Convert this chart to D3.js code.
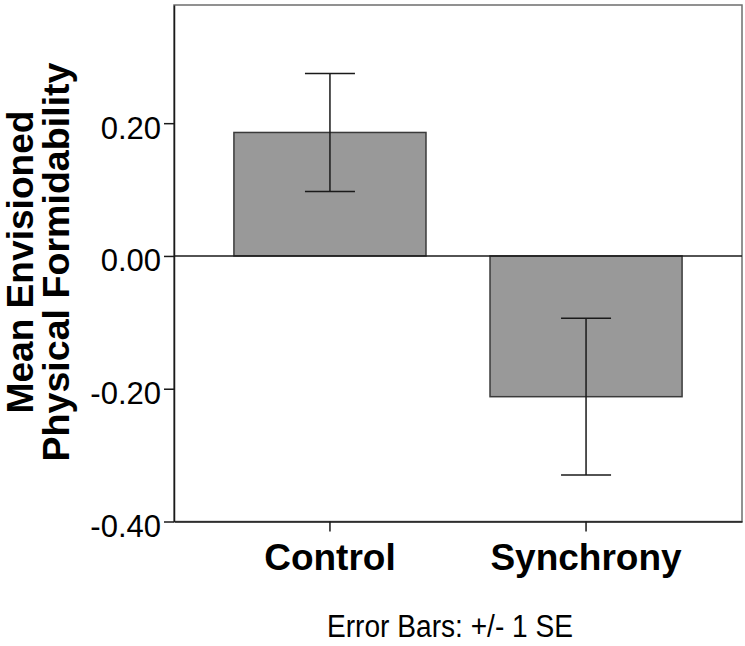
<!DOCTYPE html>
<html>
<head>
<meta charset="utf-8">
<script src="https://cdn.jsdelivr.net/npm/d3@7"></script>
<style>
  body { margin: 0; background: #fff; }
  svg { display: block; font-family: "Liberation Sans", Arial, sans-serif; }
</style>
</head>
<body>
<div class="Graph"></div>
<script>
// data
const groups = ["Control", "Synchrony"];
const means = [0.186, -0.212];
const stdErr = [0.089, 0.118];
const yTicks = [-0.4, -0.2, 0, 0.2];

const W = 745, H = 646;
const plotL = 174, plotR = 742, plotT = 5, plotB = 521.5;

const svg = d3.select(".Graph")//svg area
    .append("svg")
    .attr("width", W)
    .attr("height", H);

let x = d3.scaleBand()//x axis
    .domain(groups)
    .range([plotL, plotR])
    .paddingInner(0.25)
    .paddingOuter(0.234);

let y = d3.scaleLinear()//y axis
    .domain([-0.4, 0.378])
    .range([plotB, plotT]);

// frame
svg.append("rect")
    .attr("x", plotL).attr("y", plotT)
    .attr("width", plotR - plotL).attr("height", plotB - plotT)
    .attr("fill", "none")
    .attr("stroke", "#6e6e6e")
    .attr("stroke-width", 1.5);

// bars
svg.selectAll(".bar")
    .data(groups)
    .enter()
    .append("rect")
    .attr("class", "bar")
    .attr("x", d => x(d))
    .attr("width", x.bandwidth())
    .attr("y", (d, i) => y(Math.max(0, means[i])))
    .attr("height", (d, i) => Math.abs(y(means[i]) - y(0)))
    .attr("fill", "#999999")
    .attr("stroke", "#3a3a3a")
    .attr("stroke-width", 1.5);

// zero line
svg.append("line")
    .attr("x1", plotL).attr("x2", plotR)
    .attr("y1", y(0)).attr("y2", y(0))
    .attr("stroke", "#1a1a1a")
    .attr("stroke-width", 1.5);

// error bars +/- 1 SE
const cap = 25;
const eb = svg.selectAll(".err")
    .data(groups)
    .enter()
    .append("g")
    .attr("class", "err")
    .attr("stroke", "#1a1a1a")
    .attr("stroke-width", 1.5);
eb.append("line")
    .attr("x1", d => x(d) + x.bandwidth() / 2)
    .attr("x2", d => x(d) + x.bandwidth() / 2)
    .attr("y1", (d, i) => y(means[i] + stdErr[i]))
    .attr("y2", (d, i) => y(means[i] - stdErr[i]));
eb.append("line")
    .attr("x1", d => x(d) + x.bandwidth() / 2 - cap)
    .attr("x2", d => x(d) + x.bandwidth() / 2 + cap)
    .attr("y1", (d, i) => y(means[i] + stdErr[i]))
    .attr("y2", (d, i) => y(means[i] + stdErr[i]));
eb.append("line")
    .attr("x1", d => x(d) + x.bandwidth() / 2 - cap)
    .attr("x2", d => x(d) + x.bandwidth() / 2 + cap)
    .attr("y1", (d, i) => y(means[i] - stdErr[i]))
    .attr("y2", (d, i) => y(means[i] - stdErr[i]));

// left axis
const gy = svg.append("g")
    .attr("transform", "translate(" + plotL + ",0)")
    .call(d3.axisLeft(y).tickValues(yTicks).tickSize(10).tickSizeOuter(0).tickPadding(3)
        .tickFormat(d => d.toFixed(2)));
gy.select(".domain").attr("stroke", "#1a1a1a").attr("stroke-width", 1.5);
gy.selectAll(".tick line").attr("stroke", "#1a1a1a").attr("stroke-width", 1.5);
gy.selectAll(".tick text")
    .attr("font-family", "Liberation Sans, Arial, sans-serif")
    .attr("font-size", 31)
    .attr("fill", "#000")
    .attr("y", 5);

// bottom axis
const gx = svg.append("g")
    .attr("transform", "translate(0," + plotB + ")")
    .call(d3.axisBottom(x).tickSize(10).tickSizeOuter(0));
gx.select(".domain").attr("stroke", "#1a1a1a").attr("stroke-width", 1.5);
gx.selectAll(".tick line").attr("stroke", "#1a1a1a").attr("stroke-width", 1.5);
gx.selectAll(".tick text")
    .attr("font-family", "Liberation Sans, Arial, sans-serif")
    .attr("font-size", 37)
    .attr("font-weight", "bold")
    .attr("fill", "#000")
    .attr("dy", 0)
    .attr("y", 48.5);

// y title
const yTitle = ["Mean Envisioned", "Physical Formidability"];
const yTitleLen = [303, 399];
svg.append("text")
    .attr("transform", "translate(33,262) rotate(-90)")
    .attr("text-anchor", "middle")
    .attr("font-size", 37)
    .attr("font-weight", "bold")
    .selectAll("tspan")
    .data(yTitle)
    .enter()
    .append("tspan")
    .attr("x", 0)
    .attr("dy", (d, i) => i == 0 ? 0 : 36)
    .attr("textLength", (d, i) => yTitleLen[i])
    .attr("lengthAdjust", "spacingAndGlyphs")
    .text(d => d);

// footnote
svg.append("text")
    .attr("x", 450)
    .attr("y", 637)
    .attr("text-anchor", "middle")
    .attr("font-size", 31)
    .attr("textLength", 246)
    .attr("lengthAdjust", "spacingAndGlyphs")
    .text("Error Bars: +/- 1 SE");
</script>
</body>
</html>
